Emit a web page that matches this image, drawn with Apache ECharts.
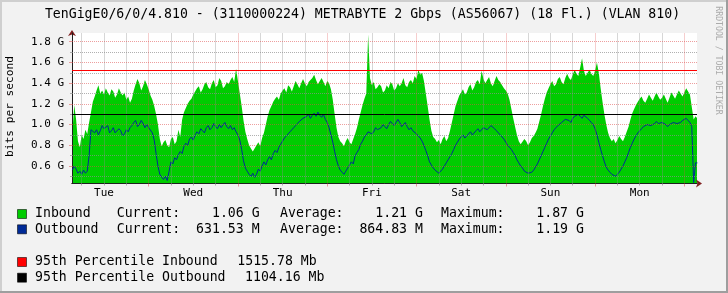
<!DOCTYPE html>
<html><head><meta charset="utf-8">
<script src="https://cdn.jsdelivr.net/npm/echarts@6/dist/echarts.min.js"></script>
<style>html,body{margin:0;padding:0;background:#F2F2F2}#c{width:728px;height:293px}</style>
</head><body><div id="c"></div>
<script>
// ---------- data ----------
const TITLE = 'TenGigE0/6/0/4.810 - (3110000224) METRABYTE 2 Gbps (AS56067) (18 Fl.) (VLAN 810)';
const Y_UNIT_LABEL = 'bits per second';
const WATERMARK = 'RRDTOOL / TOBI OETIKER';
// hours since Tuesday 00:00, one sample every half hour
const T_START = 3.5;
const T_STEP = 0.5;
const INBOUND_G = [
  0.92,1.19,1.05,0.84,0.78,0.90,0.86,0.95,0.91,1.02,1.12,1.22,1.27,1.33,1.38,1.30,1.33,1.29,1.35,1.31,
  1.28,1.34,1.32,1.26,1.29,1.35,1.31,1.28,1.31,1.24,1.27,1.21,1.25,1.33,1.39,1.44,1.40,1.33,1.37,1.43,1.39,1.34,
  1.28,1.24,1.18,1.10,1.00,0.86,0.79,0.83,0.85,0.80,0.78,0.86,0.88,0.81,0.84,0.95,0.88,1.05,1.12,1.16,
  1.20,1.23,1.25,1.29,1.32,1.35,1.37,1.31,1.34,1.39,1.41,1.36,1.34,1.40,1.43,1.36,1.38,1.45,1.42,1.35,
  1.37,1.41,1.39,1.43,1.46,1.41,1.54,1.42,
  1.30,1.18,1.04,0.93,0.86,0.80,0.77,0.74,0.73,0.80,0.83,0.79,0.87,0.92,1.00,1.08,1.14,1.18,1.22,1.25,
  1.27,1.24,1.30,1.33,1.35,1.31,1.38,1.36,1.32,1.37,1.42,1.39,1.35,1.40,1.44,1.40,1.37,1.41,1.43,1.45,
  1.48,1.43,1.39,1.42,1.45,1.41,1.37,1.42,
  1.40,1.34,1.24,1.10,0.97,0.88,0.84,0.82,0.79,0.84,0.87,0.83,0.81,0.86,0.91,0.97,1.05,1.12,1.19,1.25,
  1.30,1.87,1.45,1.38,1.41,1.34,1.36,1.39,1.37,1.31,1.33,1.38,1.35,1.41,1.39,1.33,1.35,1.40,1.37,1.40,
  1.45,1.38,1.36,1.41,1.43,1.40,1.47,1.44,
  1.53,1.48,1.50,1.42,1.30,1.18,1.05,0.94,0.88,0.86,0.83,0.85,0.81,0.86,0.89,0.84,0.87,0.94,1.02,1.10,
  1.18,1.23,1.28,1.31,1.34,1.29,1.31,1.36,1.39,1.33,1.36,1.41,1.43,1.39,1.52,1.44,1.40,1.43,1.46,1.40,
  1.37,1.42,1.47,1.43,1.41,1.38,1.35,1.33,
  1.30,1.24,1.15,1.06,0.98,0.90,0.84,0.81,0.80,0.86,0.84,0.80,0.83,0.87,0.89,0.92,0.96,1.03,1.10,1.18,
  1.25,1.31,1.35,1.39,1.42,1.37,1.39,1.44,1.46,1.41,1.39,1.45,1.49,1.45,1.43,1.48,1.53,1.49,1.47,1.55,
  1.64,1.52,1.47,1.50,1.53,1.49,1.47,1.52,
  1.60,1.50,1.35,1.22,1.10,1.00,0.92,0.87,0.84,0.86,0.82,0.85,0.89,0.86,0.84,0.88,0.93,0.98,1.05,1.11,
  1.15,1.19,1.22,1.25,1.27,1.23,1.21,1.25,1.29,1.26,1.23,1.27,1.31,1.27,1.24,1.26,1.29,1.25,1.21,1.26,
  1.31,1.28,1.25,1.29,1.33,1.30,1.27,1.31,
  1.35,1.32,1.29,1.30,1.05,1.08,1.06
];
const OUTBOUND_G = [
  0.56,0.60,0.57,0.53,0.55,0.52,0.56,0.53,0.55,0.70,0.95,0.96,0.92,0.95,0.90,0.94,0.99,0.96,0.95,0.99,
  0.92,0.94,0.97,0.92,0.93,0.96,0.94,0.89,0.91,0.95,0.93,0.97,0.99,1.02,1.04,0.98,1.00,1.04,1.01,0.97,1.00,0.97,
  0.96,0.92,0.85,0.72,0.60,0.52,0.49,0.47,0.50,0.46,0.55,0.64,0.62,0.68,0.66,0.71,0.74,0.72,0.79,0.82,
  0.80,0.86,0.88,0.85,0.90,0.93,0.91,0.96,0.94,0.92,0.97,0.99,0.95,0.97,1.01,0.98,0.96,1.00,0.97,1.00,
  1.02,0.98,0.96,0.99,0.95,0.97,0.93,0.90,
  0.85,0.76,0.65,0.58,0.55,0.52,0.50,0.53,0.49,0.52,0.57,0.55,0.60,0.64,0.61,0.66,0.69,0.66,0.72,0.75,
  0.73,0.78,0.81,0.84,0.87,0.89,0.91,0.93,0.95,0.97,0.99,1.01,1.03,1.04,1.06,1.05,1.08,1.10,1.06,1.09,
  1.11,1.08,1.12,1.09,1.07,1.10,1.05,1.02,
  0.97,0.90,0.83,0.74,0.66,0.60,0.56,0.54,0.52,0.55,0.58,0.61,0.64,0.62,0.70,0.73,0.76,0.81,0.84,0.88,
  0.90,0.93,0.94,0.91,0.93,0.97,0.95,0.94,0.97,1.00,0.98,0.96,1.00,1.03,1.01,0.99,1.02,1.05,1.02,0.98,
  1.00,1.02,0.98,0.95,0.97,0.94,0.93,0.91,
  0.90,0.87,0.84,0.80,0.75,0.70,0.64,0.61,0.58,0.56,0.55,0.53,0.54,0.57,0.60,0.63,0.66,0.69,0.72,0.76,
  0.80,0.83,0.86,0.88,0.90,0.87,0.88,0.91,0.93,0.90,0.91,0.94,0.96,0.93,0.94,0.97,0.98,0.95,0.96,0.99,
  1.00,0.96,0.94,0.92,0.90,0.88,0.86,0.83,
  0.80,0.78,0.76,0.73,0.70,0.66,0.63,0.60,0.58,0.55,0.54,0.53,0.52,0.54,0.56,0.59,0.62,0.66,0.70,0.74,
  0.78,0.82,0.86,0.89,0.92,0.95,0.97,0.99,1.00,1.02,1.03,1.05,1.06,1.04,1.02,1.06,1.08,1.07,1.10,1.08,
  1.06,1.09,1.09,1.06,1.04,1.02,1.00,0.96,
  0.90,0.83,0.76,0.70,0.64,0.59,0.56,0.54,0.52,0.51,0.50,0.52,0.54,0.57,0.60,0.64,0.68,0.73,0.78,0.82,
  0.86,0.89,0.92,0.94,0.96,0.98,0.99,1.00,1.01,0.99,0.98,1.01,1.03,1.01,1.00,1.02,1.02,1.00,0.98,1.00,
  1.01,1.02,1.03,1.01,1.00,1.02,1.04,1.05,
  1.06,1.04,1.02,0.98,0.44,0.63,0.63
];
const P95_INBOUND_G = 1.51578;
const P95_OUTBOUND_G = 1.10416;
const Y_MIN = 0.431, Y_MAX = 1.884;
const X_MIN = 3.4, X_MAX = 171.4;
const Y_MAJOR = [0.6,0.8,1.0,1.2,1.4,1.6,1.8];
const Y_MINOR = [0.5,0.7,0.9,1.1,1.3,1.5,1.7];
const X_MAJOR = [24,48,72,96,120,144,168];
const X_MINOR = [6,12,18,30,36,42,54,60,66,78,84,90,102,108,114,126,132,138,150,156,162];
const DAY_LABEL_HOURS = [12,36,60,84,108,132,156];
const DAY_NAMES = ['Tue','Wed','Thu','Fri','Sat','Sun','Mon'];
const LEGEND_NAMES = ['Inbound','Outbound'];
const LEGEND_COLORS = ['#00CC00','#002A97'];
const LEGEND_CURRENT = ['Current:    1.06 G','Current:  631.53 M'];
const LEGEND_AVERAGE = ['Average:    1.21 G','Average:  864.83 M'];
const LEGEND_MAXIMUM = ['Maximum:    1.87 G','Maximum:    1.19 G'];
const PCT_NAMES = ['95th Percentile Inbound','95th Percentile Outbound'];
const PCT_VALUES = ['1515.78 Mb','1104.16 Mb'];
const PCT_COLORS = ['#FF0000','#000000'];

// ---------- chart ----------
const MONO = '"DejaVu Sans Mono", monospace';
const GRID_C = 'rgba(143,143,143,0.7)';
const MGRID_C = 'rgba(222,79,79,0.55)';
const toPairs = arr => arr.map((v, i) => [T_START + i * T_STEP, v]);

const gridLines = [];
Y_MINOR.forEach(v => gridLines.push({yAxis: v, lineStyle: {color: GRID_C, type: [1,1], width: 1}}));
X_MINOR.forEach(v => gridLines.push({xAxis: v, lineStyle: {color: GRID_C, type: [1,1], width: 1}}));
Y_MAJOR.forEach(v => gridLines.push({yAxis: v, lineStyle: {color: MGRID_C, type: [1,1], width: 1}}));
X_MAJOR.forEach(v => gridLines.push({xAxis: v, lineStyle: {color: MGRID_C, type: [1,1], width: 1}}));

const graphics = [
  {type:'rect', shape:{x:0,y:0,width:728,height:2}, style:{fill:'#CFCFCF'}, silent:true},
  {type:'rect', shape:{x:0,y:0,width:2,height:293}, style:{fill:'#CFCFCF'}, silent:true},
  {type:'rect', shape:{x:0,y:291,width:728,height:2}, style:{fill:'#9E9E9E'}, silent:true},
  {type:'rect', shape:{x:726,y:0,width:2,height:293}, style:{fill:'#9E9E9E'}, silent:true},
  {type:'text', x:362.5, y:14.3, style:{text:TITLE, font:'13.2px '+MONO, fill:'#000', textAlign:'center', textVerticalAlign:'middle'}},
  {type:'text', x:10.5, y:106.5, rotation:Math.PI/2, style:{text:Y_UNIT_LABEL, font:'11.2px '+MONO, fill:'#000', textAlign:'center', textVerticalAlign:'middle'}},
  {type:'text', x:718, y:60.5, rotation:-Math.PI/2, style:{text:WATERMARK, font:'8.2px '+MONO, fill:'#ABABAB', textAlign:'center', textVerticalAlign:'middle'}}
];
const ROW_Y = [214, 229.3];
const COL_X = [35, 116.7, 280, 441];
LEGEND_NAMES.forEach((name, i) => {
  const y = ROW_Y[i];
  graphics.push({type:'rect', shape:{x:17.5,y:y-4.5,width:9,height:9}, style:{fill:LEGEND_COLORS[i], stroke:'rgba(0,0,0,0.55)', lineWidth:1}});
  [name, LEGEND_CURRENT[i], LEGEND_AVERAGE[i], LEGEND_MAXIMUM[i]].forEach((t, j) => {
    graphics.push({type:'text', x:COL_X[j], y:y, style:{text:t, font:'13.2px '+MONO, fill:'#000', textAlign:'left', textVerticalAlign:'middle'}});
  });
});
const PROW_Y = [262, 277.7];
const PVAL_X = [237.3, 245];
PCT_NAMES.forEach((name, i) => {
  const y = PROW_Y[i];
  graphics.push({type:'rect', shape:{x:17.5,y:y-4.5,width:9,height:9}, style:{fill:PCT_COLORS[i], stroke:'rgba(0,0,0,0.55)', lineWidth:1}});
  graphics.push({type:'text', x:35, y:y, style:{text:name, font:'13.2px '+MONO, fill:'#000', textAlign:'left', textVerticalAlign:'middle'}});
  graphics.push({type:'text', x:PVAL_X[i], y:y, style:{text:PCT_VALUES[i], font:'13.2px '+MONO, fill:'#000', textAlign:'left', textVerticalAlign:'middle'}});
});

const axisBase = (min, max) => ({type:'value', min, max, splitLine:{show:false}});
const option = {
  animation:false,
  backgroundColor:'#F2F2F2',
  grid:{left:72, top:33, width:625, height:150.5, show:true, backgroundColor:'#FFFFFF', borderWidth:0},
  xAxis:[
    Object.assign(axisBase(X_MIN, X_MAX), {position:'bottom', z:3,
      axisLine:{show:true, onZero:false, lineStyle:{color:'#1F1F1F', width:1}},
      axisTick:{show:true, customValues:X_MINOR, length:2, lineStyle:{color:GRID_C}},
      axisLabel:{show:true, customValues:DAY_LABEL_HOURS, margin:4, fontFamily:MONO, fontSize:11, color:'#000',
        formatter:v => DAY_NAMES[DAY_LABEL_HOURS.indexOf(Math.round(v))] || ''}}),
    Object.assign(axisBase(X_MIN, X_MAX), {position:'bottom', z:2,
      axisLine:{show:true, onZero:false, symbol:['none','arrow'], symbolSize:[6,6], symbolOffset:[0,5], lineStyle:{color:'#801F1F', width:1}},
      axisTick:{show:true, customValues:X_MAJOR, length:3, lineStyle:{color:MGRID_C}},
      axisLabel:{show:false}})
  ],
  yAxis:[
    Object.assign(axisBase(Y_MIN, Y_MAX), {position:'left', z:3,
      axisLine:{show:true, onZero:false, lineStyle:{color:'#1F1F1F', width:1}},
      axisTick:{show:true, customValues:Y_MAJOR, length:3, lineStyle:{color:MGRID_C}},
      axisLabel:{show:true, customValues:Y_MAJOR, margin:8, fontFamily:MONO, fontSize:11, color:'#000',
        formatter:v => v.toFixed(1) + ' G'}}),
    Object.assign(axisBase(Y_MIN, Y_MAX), {position:'left', z:2,
      axisLine:{show:true, onZero:false, symbol:['none','arrow'], symbolSize:[6,6], symbolOffset:[0,3], lineStyle:{color:'#801F1F', width:1}},
      axisTick:{show:true, customValues:Y_MINOR, length:2, lineStyle:{color:GRID_C}},
      axisLabel:{show:false}})
  ],
  series:[
    {name:'grid', type:'line', xAxisIndex:0, yAxisIndex:0, data:[], z:1, silent:true,
      markLine:{silent:true, symbol:['none','none'], label:{show:false}, emphasis:{disabled:true}, animation:false, data:gridLines}},
    {name:'Inbound', type:'line', xAxisIndex:0, yAxisIndex:0, data:toPairs(INBOUND_G), symbol:'none', showSymbol:false,
      lineStyle:{width:0, opacity:0}, areaStyle:{color:'#00CC00', opacity:1, origin:'start'}, z:2, silent:true},
    {name:'Outbound', type:'line', xAxisIndex:0, yAxisIndex:0, data:toPairs(OUTBOUND_G), symbol:'none', showSymbol:false,
      lineStyle:{color:'#002A97', width:1}, z:4, silent:true},
    {name:'pct', type:'line', xAxisIndex:0, yAxisIndex:0, data:[], z:5, silent:true,
      markLine:{silent:true, symbol:['none','none'], label:{show:false}, emphasis:{disabled:true}, animation:false,
        data:[{yAxis:P95_INBOUND_G, lineStyle:{color:'#FF0000', type:'solid', width:1}},
              {yAxis:P95_OUTBOUND_G, lineStyle:{color:'#000000', type:'solid', width:1}}]}}
  ],
  graphic:graphics
};
const chart = echarts.init(document.getElementById('c'), null, {renderer:'canvas'});
chart.setOption(option);
</script>
</body></html>
